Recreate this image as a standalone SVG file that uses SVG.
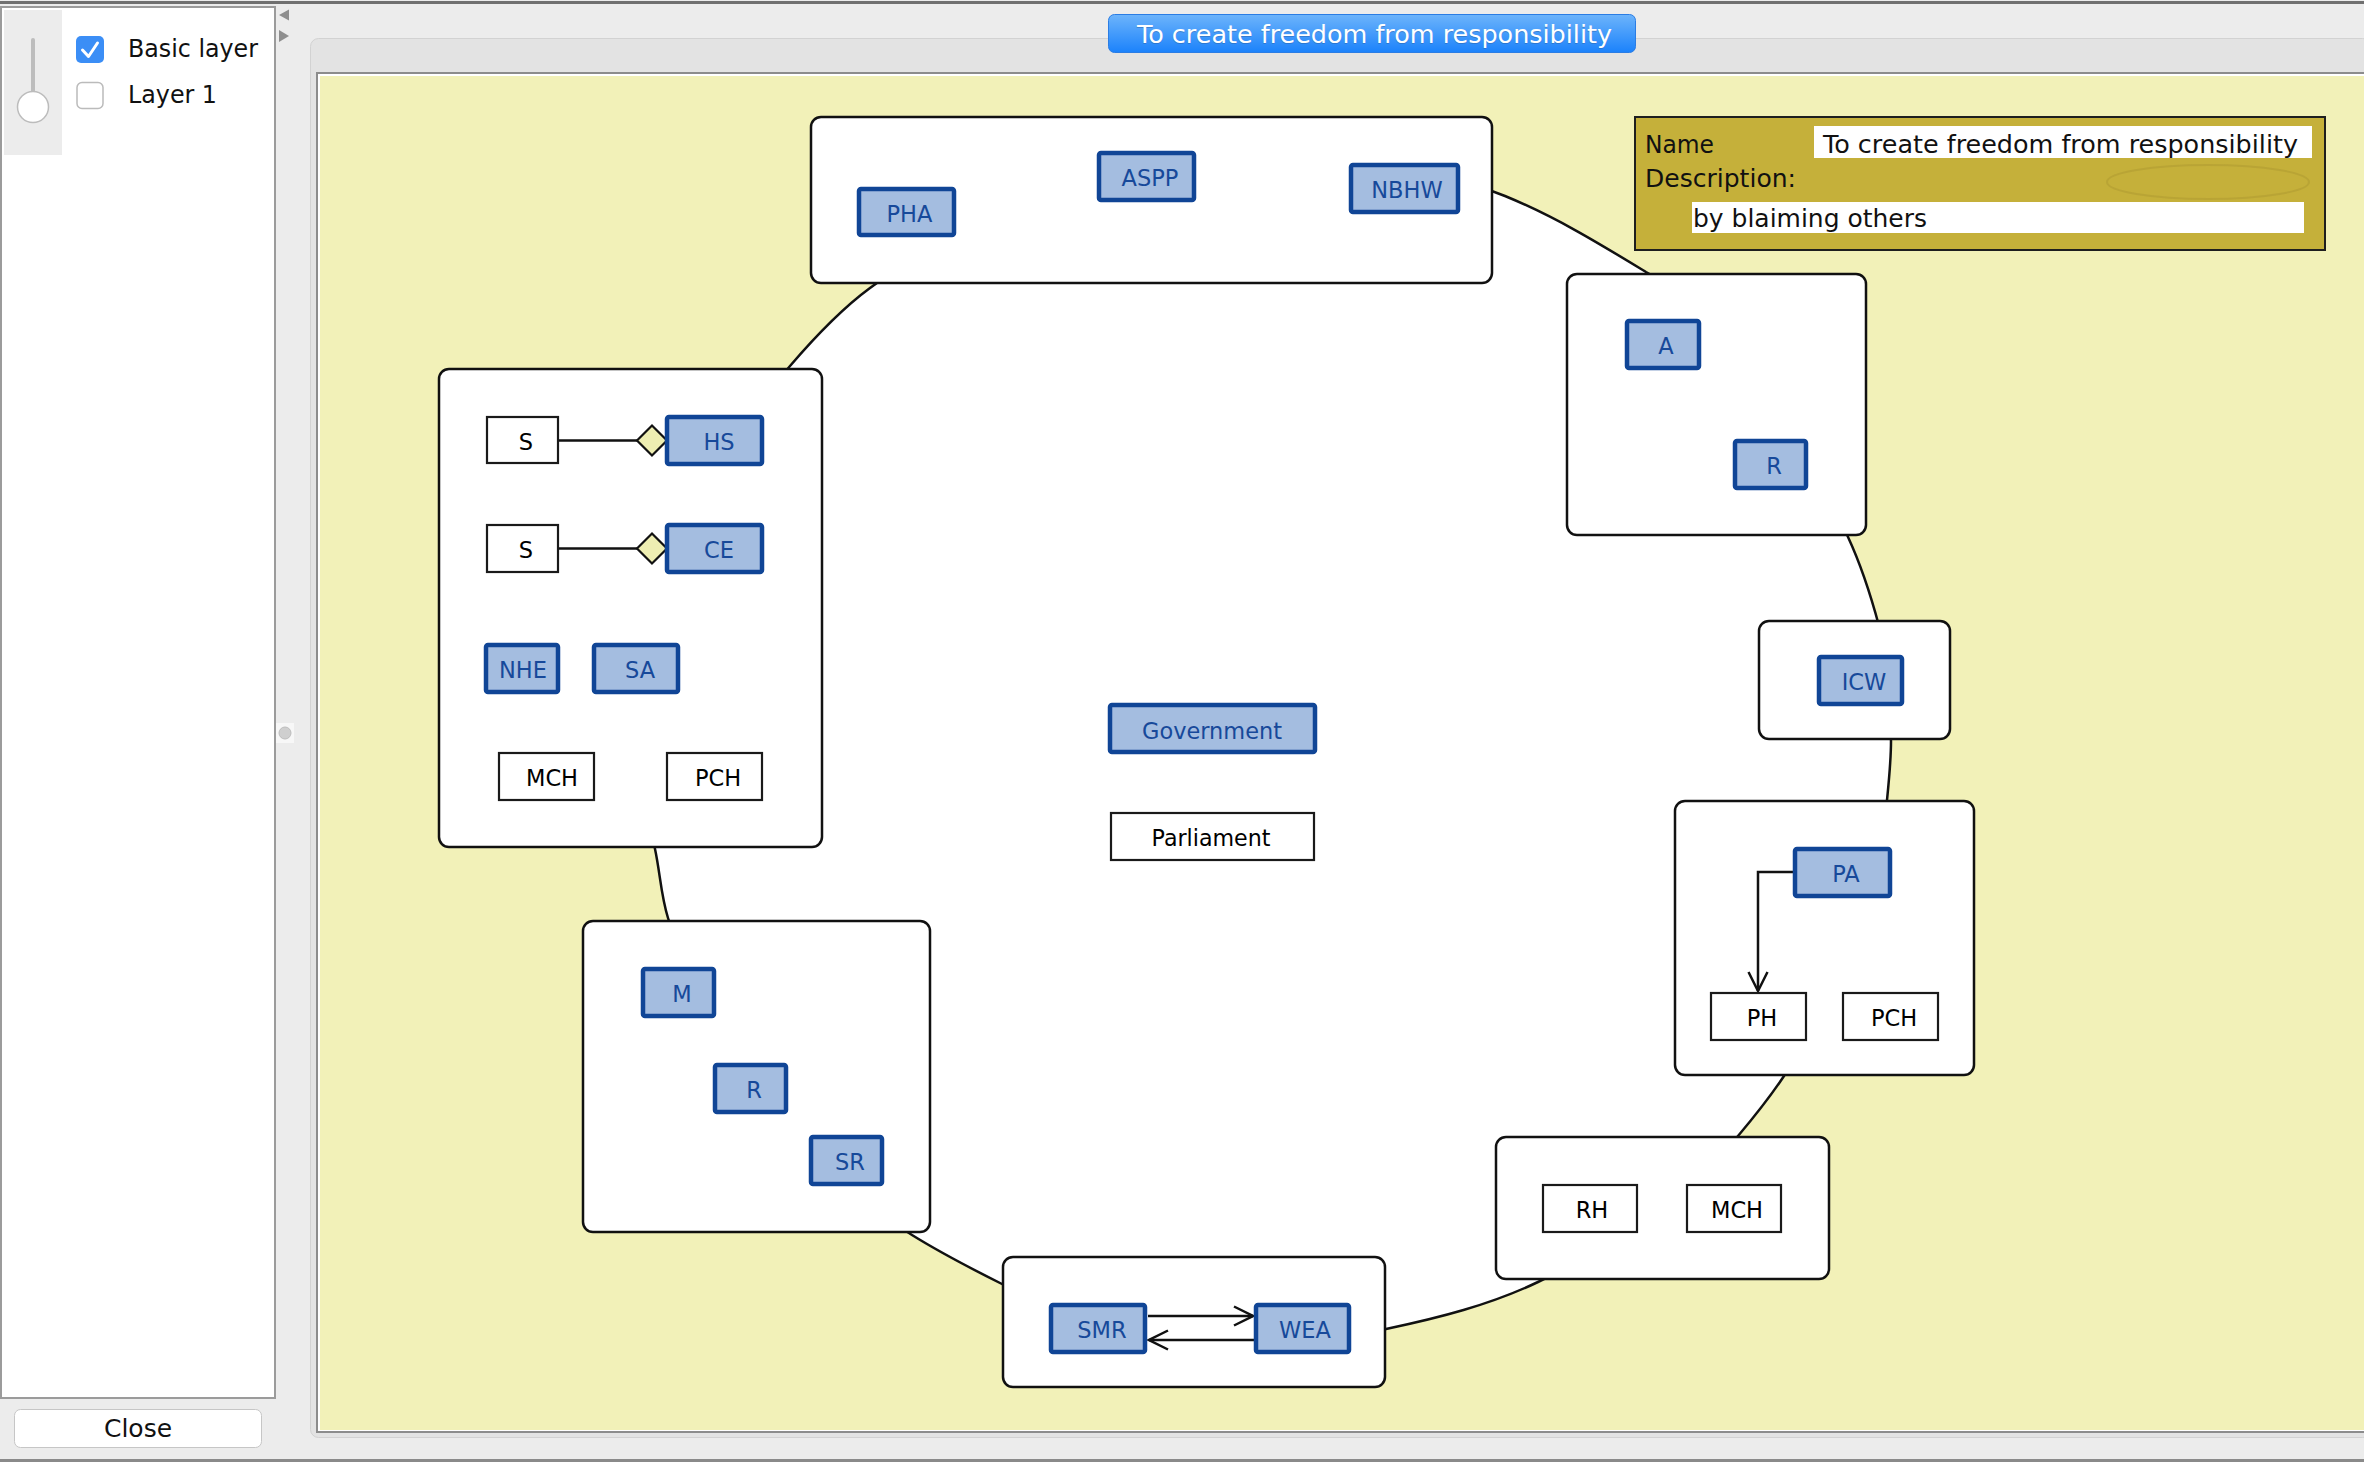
<svg xmlns="http://www.w3.org/2000/svg" width="2364" height="1462" viewBox="0 0 2364 1462">
<defs>
<linearGradient id="btn" x1="0" y1="0" x2="0" y2="1">
<stop offset="0" stop-color="#6db4fb"/>
<stop offset="1" stop-color="#1b82fb"/>
</linearGradient>
<marker id="arr" viewBox="-22 -12 24 24" refX="0" refY="0" markerWidth="24" markerHeight="24" markerUnits="userSpaceOnUse" orient="auto">
<path d="M-19,-9.5 L0,0 L-19,9.5" fill="none" stroke="#111" stroke-width="2.5"/>
</marker>
</defs>
<style>
.ui{font-family:"DejaVu Sans","Liberation Sans",sans-serif}
.cont{fill:#fff;stroke:#111;stroke-width:2.5}
.bn rect{fill:#a4bde0;stroke:#104596;stroke-width:4.5}
.bn text{fill:#17499a}
.wn rect{fill:#fff;stroke:#1a1a1a;stroke-width:2.2}
.wn text{fill:#000}
.n{font-family:"DejaVu Sans","Liberation Sans",sans-serif;font-size:22.5px;text-anchor:middle}
.lg{font-family:"DejaVu Sans","Liberation Sans",sans-serif;font-size:24px;fill:#111}
.edge{fill:none;stroke:#111;stroke-width:2.5}
</style>

<!-- window chrome -->
<rect x="0" y="0" width="2364" height="1462" fill="#ececec"/>
<rect x="0" y="1" width="2364" height="3" fill="#707070"/>
<rect x="0" y="1459" width="2364" height="3" fill="#8a8a8a"/>
<rect x="310.5" y="38.5" width="2060" height="1399" rx="8" fill="#e3e3e3" stroke="#d2d2d2"/>
<rect x="316" y="72" width="2048" height="1361" fill="#8c8c8c"/>
<rect x="318" y="74" width="2046" height="1357" fill="#ffffff"/>
<rect x="320" y="76" width="2044" height="1354" fill="#f2f1b8"/>

<!-- left panel -->
<rect x="1" y="7" width="274" height="1391" fill="#fff" stroke="#9b9b9b" stroke-width="2"/>
<rect x="4" y="10" width="58" height="145" fill="#ececec"/>
<rect x="31" y="38" width="4" height="60" rx="2" fill="#bdbdbd"/>
<circle cx="33" cy="107" r="15.5" fill="#fff" stroke="#bcbcbc" stroke-width="1.5"/>
<rect x="76" y="36" width="28" height="27" rx="5" fill="#3b8ef6"/>
<path d="M82.5,50 L88.5,56.5 L97.5,43" fill="none" stroke="#fff" stroke-width="3" stroke-linecap="round" stroke-linejoin="round"/>
<rect x="77" y="82.5" width="26" height="26" rx="5" fill="#fff" stroke="#bbbbbb" stroke-width="1.5"/>
<text class="ui" x="128" y="57" font-size="24" fill="#111" textLength="130" lengthAdjust="spacingAndGlyphs">Basic layer</text>
<text class="ui" x="128" y="103" font-size="24" fill="#111" textLength="89" lengthAdjust="spacingAndGlyphs">Layer 1</text>
<rect x="14.5" y="1409.5" width="247" height="38" rx="6" fill="#fff" stroke="#c6c6c6"/>
<text class="ui" x="138" y="1437" font-size="25" text-anchor="middle" fill="#111">Close</text>

<!-- splitter -->
<polygon points="279,15 289,9.5 289,20.5" fill="#8e8e8e"/>
<polygon points="279,30 289,36 279,42" fill="#8e8e8e"/>
<rect x="276" y="723" width="18" height="20" fill="#f7f7f7"/>
<circle cx="285" cy="733" r="6" fill="#cfcfcf" stroke="#bdbdbd"/>

<!-- title button -->
<rect x="1108.5" y="14.5" width="527" height="38" rx="6" fill="url(#btn)" stroke="#2b7de4"/>
<text class="ui" x="1137" y="44" font-size="25" fill="#2d63a8" opacity="0.5" textLength="475" lengthAdjust="spacingAndGlyphs">To create freedom from responsibility</text>
<text class="ui" x="1137" y="43" font-size="25" fill="#fff" textLength="475" lengthAdjust="spacingAndGlyphs">To create freedom from responsibility</text>

<!-- ring -->
<g id="ring">
<path d="M790,366 C814,338 840,310 870,288 C959,221 1069,173 1180,168 C1289,163 1405,155 1505,196 C1556,217 1600,244 1646,272 C1747,324 1802,437 1848,537 C1861,565 1871,596 1879,626 C1889,664 1890,702 1891,741 C1891,761 1889,780 1887,800 C1879,898 1838,995 1784,1076 C1770,1097 1754,1117 1738,1136 C1684,1199 1613,1246 1538,1282 C1490,1305 1438,1318 1386,1329 C1321,1342 1256,1345 1190,1345 C1124,1345 1061,1314 1002,1284 C972,1269 941,1253 912,1235 C799,1165 707,1046 668,918 C661,896 660,872 655,849 C618,685 680,491 790,366 Z" fill="#fff" stroke="#111" stroke-width="2.5"/>
</g>

<!-- legend -->
<g id="legend">
<rect x="1635" y="117" width="690" height="133" fill="#c5b03a" stroke="#1e1e1e" stroke-width="2"/>
<text class="lg" x="1645" y="153" textLength="69" lengthAdjust="spacingAndGlyphs">Name</text>
<rect x="1814" y="126" width="498" height="32" fill="#fff"/>
<text class="lg" x="1823" y="153" font-size="25" textLength="475" lengthAdjust="spacingAndGlyphs">To create freedom from responsibility</text>
<text class="lg" x="1645" y="187" textLength="151" lengthAdjust="spacingAndGlyphs">Description:</text>
<ellipse cx="2208" cy="182" rx="101" ry="17" fill="none" stroke="#b39f33" stroke-width="2" opacity="0.7"/>
<rect x="1692" y="202" width="612" height="31" fill="#fff"/>
<text class="lg" x="1693" y="227" textLength="234" lengthAdjust="spacingAndGlyphs">by blaiming others</text>
</g>

<!-- containers -->
<g id="box-top"><rect class="cont" x="811" y="117" width="681" height="166" rx="10"/></g>
<g id="box-left"><rect class="cont" x="439" y="369" width="383" height="478" rx="10"/></g>
<g id="box-ar"><rect class="cont" x="1567" y="274" width="299" height="261" rx="10"/></g>
<g id="box-icw"><rect class="cont" x="1759" y="621" width="191" height="118" rx="10"/></g>
<g id="box-pa"><rect class="cont" x="1675" y="801" width="299" height="274" rx="10"/></g>
<g id="box-m"><rect class="cont" x="583" y="921" width="347" height="311" rx="10"/></g>
<g id="box-smr"><rect class="cont" x="1003" y="1257" width="382" height="130" rx="10"/></g>
<g id="box-rh"><rect class="cont" x="1496" y="1137" width="333" height="142" rx="10"/></g>

<!-- connectors -->
<g id="connectors">
<line class="edge" x1="559" y1="440.5" x2="637" y2="440.5"/>
<polygon points="637,440.5 652,425.5 667,440.5 652,455.5" fill="#eeeeb2" stroke="#111" stroke-width="2.2"/>
<line class="edge" x1="559" y1="548.5" x2="637" y2="548.5"/>
<polygon points="637,548.5 652,533.5 667,548.5 652,563.5" fill="#eeeeb2" stroke="#111" stroke-width="2.2"/>
<polyline class="edge" points="1794,872 1758,872 1758,991" marker-end="url(#arr)"/>
<line class="edge" x1="1148" y1="1316" x2="1253" y2="1316" marker-end="url(#arr)"/>
<line class="edge" x1="1254" y1="1340" x2="1149" y2="1340" marker-end="url(#arr)"/>
</g>

<!-- nodes -->
<g id="n-pha" class="bn"><rect x="859" y="189" width="95" height="46" rx="2"/><text class="n" x="909.5" y="221.5">PHA</text></g>
<g id="n-aspp" class="bn"><rect x="1099" y="153" width="95" height="47" rx="2"/><text class="n" x="1150" y="186">ASPP</text></g>
<g id="n-nbhw" class="bn"><rect x="1351" y="165" width="107" height="47" rx="2"/><text class="n" x="1407" y="198">NBHW</text></g>

<g id="n-s1" class="wn"><rect x="487" y="417" width="71" height="46"/><text class="n" x="526" y="449.5">S</text></g>
<g id="n-hs" class="bn"><rect x="667" y="417" width="95" height="47" rx="2"/><text class="n" x="719" y="450">HS</text></g>
<g id="n-s2" class="wn"><rect x="487" y="525" width="71" height="47"/><text class="n" x="526" y="558">S</text></g>
<g id="n-ce" class="bn"><rect x="667" y="525" width="95" height="47" rx="2"/><text class="n" x="719" y="558">CE</text></g>
<g id="n-nhe" class="bn"><rect x="486" y="645" width="72" height="47" rx="2"/><text class="n" x="523" y="678">NHE</text></g>
<g id="n-sa" class="bn"><rect x="594" y="645" width="84" height="47" rx="2"/><text class="n" x="640" y="678">SA</text></g>
<g id="n-mch1" class="wn"><rect x="499" y="753" width="95" height="47"/><text class="n" x="552" y="786">MCH</text></g>
<g id="n-pch1" class="wn"><rect x="667" y="753" width="95" height="47"/><text class="n" x="718" y="786">PCH</text></g>

<g id="n-a" class="bn"><rect x="1627" y="321" width="72" height="47" rx="2"/><text class="n" x="1666" y="354">A</text></g>
<g id="n-r1" class="bn"><rect x="1735" y="441" width="71" height="47" rx="2"/><text class="n" x="1774" y="474">R</text></g>
<g id="n-icw" class="bn"><rect x="1819" y="657" width="83" height="47" rx="2"/><text class="n" x="1864" y="690">ICW</text></g>
<g id="n-pa" class="bn"><rect x="1795" y="849" width="95" height="47" rx="2"/><text class="n" x="1846" y="882">PA</text></g>
<g id="n-ph" class="wn"><rect x="1711" y="993" width="95" height="47"/><text class="n" x="1762" y="1026">PH</text></g>
<g id="n-pch2" class="wn"><rect x="1843" y="993" width="95" height="47"/><text class="n" x="1894" y="1026">PCH</text></g>
<g id="n-rh" class="wn"><rect x="1543" y="1185" width="94" height="47"/><text class="n" x="1592" y="1218">RH</text></g>
<g id="n-mch2" class="wn"><rect x="1687" y="1185" width="94" height="47"/><text class="n" x="1737" y="1218">MCH</text></g>
<g id="n-smr" class="bn"><rect x="1051" y="1305" width="94" height="47" rx="2"/><text class="n" x="1102" y="1338">SMR</text></g>
<g id="n-wea" class="bn"><rect x="1256" y="1305" width="93" height="47" rx="2"/><text class="n" x="1305" y="1338">WEA</text></g>
<g id="n-m" class="bn"><rect x="643" y="969" width="71" height="47" rx="2"/><text class="n" x="682" y="1002">M</text></g>
<g id="n-r2" class="bn"><rect x="715" y="1065" width="71" height="47" rx="2"/><text class="n" x="754" y="1098">R</text></g>
<g id="n-sr" class="bn"><rect x="811" y="1137" width="71" height="47" rx="2"/><text class="n" x="850" y="1170">SR</text></g>

<g id="n-gov" class="bn"><rect x="1110" y="705" width="205" height="47" rx="2"/><text class="n" x="1212" y="738.5" textLength="140" lengthAdjust="spacingAndGlyphs">Government</text></g>
<g id="n-parl" class="wn"><rect x="1111" y="813" width="203" height="47"/><text class="n" x="1211" y="846" textLength="119" lengthAdjust="spacingAndGlyphs">Parliament</text></g>
</svg>
